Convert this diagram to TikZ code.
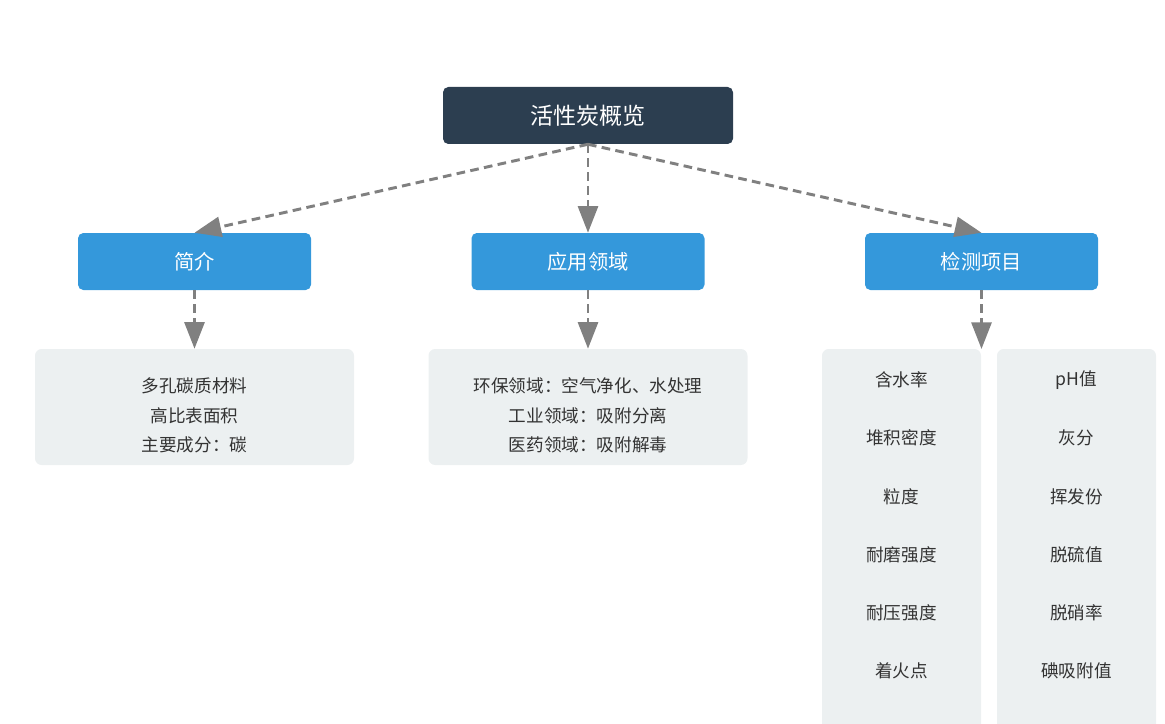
\documentclass[tikz,border=0pt]{standalone}
\usepackage{fontspec}
\setmainfont{Noto Sans CJK SC}
\usepackage{xcolor}
\usepackage{tikz}
\usetikzlibrary{arrows.meta,positioning}
\definecolor{acnavy}{HTML}{2C3E50}
\definecolor{acblue}{HTML}{3498DB}
\definecolor{acgrey}{HTML}{ECF0F1}
\definecolor{actext}{HTML}{333333}
\definecolor{acline}{HTML}{808080}
\tikzset{
  rootbox/.style={fill=acnavy, rounded corners=4pt, text=white, minimum width=217.5pt, minimum height=42.75pt, inner sep=0pt, font=\fontsize{17.3}{20}\selectfont},
  catbox/.style={fill=acblue, rounded corners=4pt, text=white, minimum width=174.75pt, minimum height=42.75pt, inner sep=0pt, font=\fontsize{15.2}{18}\selectfont},
  infobox/.style={fill=acgrey, rounded corners=5pt, minimum width=239.25pt, minimum height=87pt, inner sep=0pt},
  infotext/.style={text=actext, inner sep=0pt, align=center, font=\fontsize{13.2}{22.1}\selectfont},
  colbox/.style={fill=acgrey, rounded corners=5pt, minimum width=119.25pt, minimum height=307.5pt, inner sep=0pt},
  itembox/.style={text=actext, inner sep=0pt, font=\fontsize{13.2}{15}\selectfont},
  arr/.style={-{Triangle[length=20pt,width=15pt]}, acline, line width=2.2pt, dash pattern=on 6.5pt off 4pt},
}
\begin{document}
\begin{tikzpicture}[x=0.75pt,y=-0.75pt]
  \useasboundingbox (0,0) rectangle (1165,724);
  \clip (0,0) rectangle (1165,724);
  \node[rootbox] (root) at (588,115.5) {活性炭概览};
  \node[catbox] (intro) at (194.5,261.5) {简介};
  \node[catbox] (apply) at (588,261.5) {应用领域};
  \node[catbox] (test) at (981.5,261.5) {检测项目};
  \node[infobox] (introinfo) at (194.5,407) {};
  \node[infotext] (introtxt) at (194.5,415.5) {多孔碳质材料\\高比表面积\\主要成分：碳};
  \node[infobox] (applyinfo) at (588,407) {};
  \node[infotext] (applytxt) at (588,415.5) {环保领域：空气净化、水处理\\工业领域：吸附分离\\医药领域：吸附解毒};
  \node[colbox] (testcolA) at (901.5,554) {};
  \node[colbox] (testcolB) at (1076.5,554) {};
  \coordinate (testtop) at (981.5,349);
  \foreach \t [count=\k] in {含水率,堆积密度,粒度,耐磨强度,耐压强度,着火点}
    \node[itembox] (ta\k) at (901.5,321.8+58.2*\k) {\t};
  \foreach \t [count=\k] in {pH值,灰分,挥发份,脱硫值,脱硝率,碘吸附值}
    \node[itembox] (tb\k) at (1076.5,321.8+58.2*\k) {\t};
  \draw[arr] (root.south) -- (intro.north);
  \draw[arr] (root.south) -- (apply.north);
  \draw[arr] (root.south) -- (test.north);
  \draw[arr] (intro.south) -- (introinfo.north);
  \draw[arr] (apply.south) -- (applyinfo.north);
  \draw[arr] (test.south) -- (testtop);
\end{tikzpicture}
\end{document}
